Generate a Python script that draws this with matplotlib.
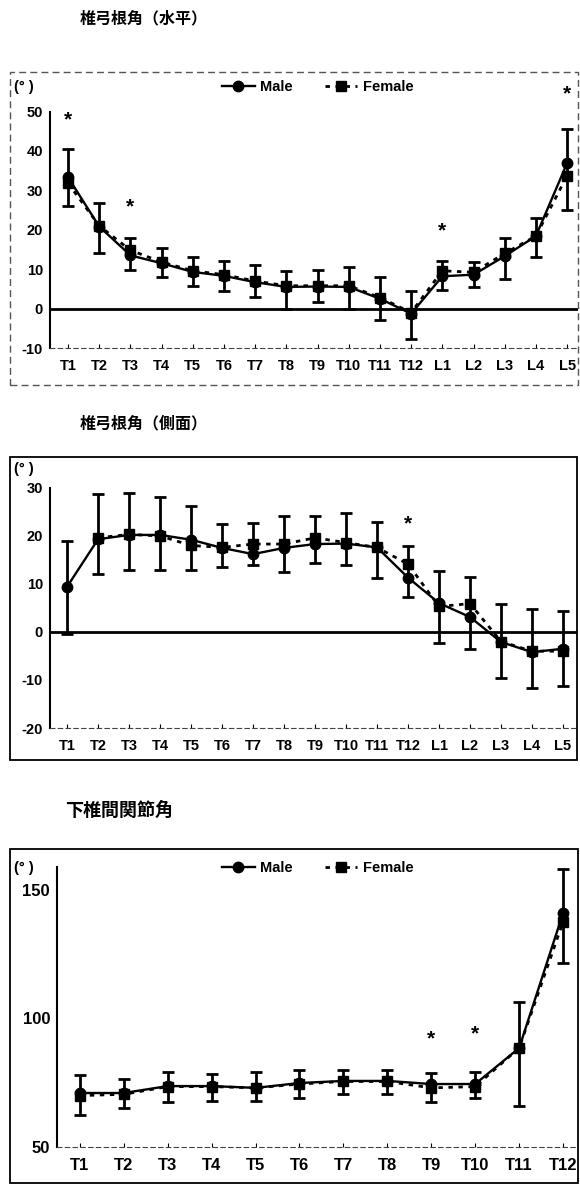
import numpy as np
from matplotlib import pyplot as plt
from matplotlib.patches import Rectangle

plt.rcParams['font.family'] = ['Liberation Sans', 'Noto Sans CJK JP']
plt.rcParams['font.weight'] = 'bold'

# ---- panel 1: pedicle angle (horizontal)
levels_h = ['T1', 'T2', 'T3', 'T4', 'T5', 'T6', 'T7', 'T8', 'T9', 'T10', 'T11', 'T12',
            'L1', 'L2', 'L3', 'L4', 'L5']
male_h = [33.3, 20.8, 13.5, 11.5, 9.3, 8.3, 6.7, 5.5, 5.6, 5.5, 2.5, -1.3, 8.2, 8.6, 13.3, 18.4, 36.9]
female_h = [31.8, 21.0, 14.8, 11.8, 9.6, 8.6, 7.0, 5.8, 5.8, 5.8, 2.8, -1.0, 9.6, 9.2, 14.0, 18.4, 33.7]
err_top_h = [40.5, 26.7, 18.0, 15.5, 13.0, 12.0, 11.0, 9.5, 9.8, 10.5, 8.0, 4.4, 12.0, 11.8, 18.0, 23.0, 45.6]
err_bot_h = [26.0, 14.2, 9.8, 8.0, 5.7, 4.5, 3.0, 0.0, 1.6, 0.0, -3.0, -7.7, 4.6, 5.5, 7.5, 13.0, 25.0]
star_idx_h = [0, 2, 12, 16]
star_val_h = [47.8, 25.7, 19.8, 54.5]

# ---- panel 2: pedicle angle (lateral)
levels_s = levels_h
male_s = [9.4, 19.3, 20.2, 20.2, 19.2, 17.5, 16.2, 17.5, 18.3, 18.4, 17.6, 11.3, 6.0, 3.1, -2.1, -4.2, -3.5]
female_s = [np.nan, 19.6, 20.3, 20.0, 18.0, 17.6, 18.3, 18.3, 19.6, 18.6, 17.6, 14.1, 5.3, 5.9, -2.0, -4.0, -4.0]
err_top_s = [19.0, 28.7, 29.0, 28.0, 26.3, 22.5, 22.7, 24.2, 24.2, 24.8, 22.8, 17.9, 12.7, 11.5, 5.9, 4.7, 4.3]
err_bot_s = [-0.4, 12.0, 13.0, 13.0, 13.0, 13.5, 14.0, 12.5, 14.4, 14.0, 11.3, 7.2, -2.2, -3.6, -9.6, -11.7, -11.2]
star_idx_s = [11]
star_val_s = [22.5]

# ---- panel 3: inferior facet joint angle
levels_f = ['T1', 'T2', 'T3', 'T4', 'T5', 'T6', 'T7', 'T8', 'T9', 'T10', 'T11', 'T12']
male_f = [71.0, 71.0, 73.7, 73.7, 73.0, 74.9, 75.7, 75.7, 74.5, 74.5, 88.5, 141.0]
female_f = [70.0, 70.5, 73.5, 73.5, 73.0, 74.5, 75.5, 75.5, 73.0, 73.5, 88.5, 137.6]
err_top_f = [78.0, 76.5, 79.0, 78.5, 79.0, 80.0, 80.0, 80.0, 78.9, 79.0, 106.5, 158.0]
err_bot_f = [62.5, 65.0, 67.6, 68.0, 68.0, 69.0, 70.5, 70.5, 67.6, 69.0, 66.0, 121.6]
star_idx_f = [8, 9]
star_val_f = [92.0, 94.0]

W, H = 580, 1185
fig = plt.figure(figsize=(W / 100, H / 100), dpi=100)


def fx(px):
    return px / W


def fy(py):
    return 1 - py / H


def draw_panel(rect_px, xlim, ylim, spine_top, yticks, levels, male, female, top, bot,
               star_idx, star_val, zero_line, tick_size):
    x0, x1, y0, y1 = rect_px
    ax = fig.add_axes([fx(x0), fy(y1), fx(x1 - x0), (y1 - y0) / H])
    x = np.arange(len(levels))
    male = np.array(male)
    top = np.array(top)
    bot = np.array(bot)
    yerr = [male - bot, top - male]
    ax.errorbar(x, male, yerr=yerr, fmt='none', ecolor='black', elinewidth=2,
                capsize=4.5, capthick=2, zorder=3)
    ax.plot(x, female, color='black', lw=2, ls=(0, (1.6, 2.0)), marker='s', ms=6.5,
            label='Female', zorder=4)
    ax.plot(x, male, color='black', lw=1.7, marker='o', ms=7.5, label='Male', zorder=5)
    if zero_line:
        ax.axhline(0, color='black', lw=2, zorder=2)
    for i, v in zip(star_idx, star_val):
        ax.text(i, v, '*', ha='center', va='center', fontsize=15, fontweight='bold')
    ax.set_xlim(*xlim)
    ax.set_ylim(*ylim)
    ax.set_xticks(x)
    ax.set_xticklabels(levels, fontsize=tick_size, fontweight='bold')
    ax.set_yticks(yticks)
    ax.set_yticklabels([str(v) for v in yticks], fontsize=tick_size, fontweight='bold')
    for s in ['top', 'right']:
        ax.spines[s].set_visible(False)
    ax.spines['left'].set_bounds(ylim[0], spine_top)
    ax.spines['left'].set_linewidth(1.5)
    ax.spines['bottom'].set_linestyle((0, (4, 3)))
    ax.spines['bottom'].set_linewidth(0.8)
    ax.spines['bottom'].set_color('#444444')
    ax.tick_params(axis='x', direction='in', length=3, width=0.8, pad=8)
    ax.tick_params(axis='y', length=0, pad=5)
    ax.patch.set_alpha(0)
    return ax


ax1 = draw_panel((50, 578, 80, 348), (-0.58, 16.35), (-10, 58), 50, [-10, 0, 10, 20, 30, 40, 50],
                 levels_h, male_h, female_h, err_top_h, err_bot_h, star_idx_h, star_val_h, True, 10.5)
ax2 = draw_panel((50, 577, 460, 728), (-0.55, 16.45), (-20, 35.8), 30, [-20, -10, 0, 10, 20, 30],
                 levels_s, male_s, female_s, err_top_s, err_bot_s, star_idx_s, star_val_s, True, 10.5)
ax3 = draw_panel((57, 578, 855, 1147), (-0.52, 11.34), (50, 163.6), 159, [50, 100, 150],
                 levels_f, male_f, female_f, err_top_f, err_bot_f, star_idx_f, star_val_f, False, 12)

# legends (Male first)
for ax, ypx in [(ax1, 87), (ax3, 868)]:
    h, l = ax.get_legend_handles_labels()
    ax.legend(h[::-1], l[::-1], ncol=2, frameon=False, loc='center',
              bbox_to_anchor=(fx(318), fy(ypx)), bbox_transform=fig.transFigure,
              prop={'weight': 'bold', 'size': 10.5}, handlelength=2.2, columnspacing=2.2,
              handletextpad=0.4)

# titles and unit labels
fig.text(fx(80), fy(18), '椎弓根角（水平）', fontsize=11.5, fontweight='bold', va='center',
         family='Noto Sans CJK JP')
fig.text(fx(80), fy(423), '椎弓根角（側面）', fontsize=11.5, fontweight='bold', va='center',
         family='Noto Sans CJK JP')
fig.text(fx(65), fy(810), '下椎間関節角', fontsize=13, fontweight='bold', va='center',
         family='Noto Sans CJK JP')
for ypx in [87, 469, 868]:
    fig.text(fx(14), fy(ypx), '(° )', fontsize=10.5, fontweight='bold', va='center')

# frames around panels
fig.patches.append(Rectangle((fx(10), fy(385)), fx(568), 313 / H, transform=fig.transFigure,
                             fill=False, lw=1, ls=(0, (5, 3)), edgecolor='#555555'))
fig.patches.append(Rectangle((fx(10), fy(760)), fx(567), 303 / H, transform=fig.transFigure,
                             fill=False, lw=1.3, edgecolor='black'))
fig.patches.append(Rectangle((fx(10), fy(1183)), fx(568), 334 / H, transform=fig.transFigure,
                             fill=False, lw=1.3, edgecolor='black'))

fig.savefig('out.png', dpi=100)
